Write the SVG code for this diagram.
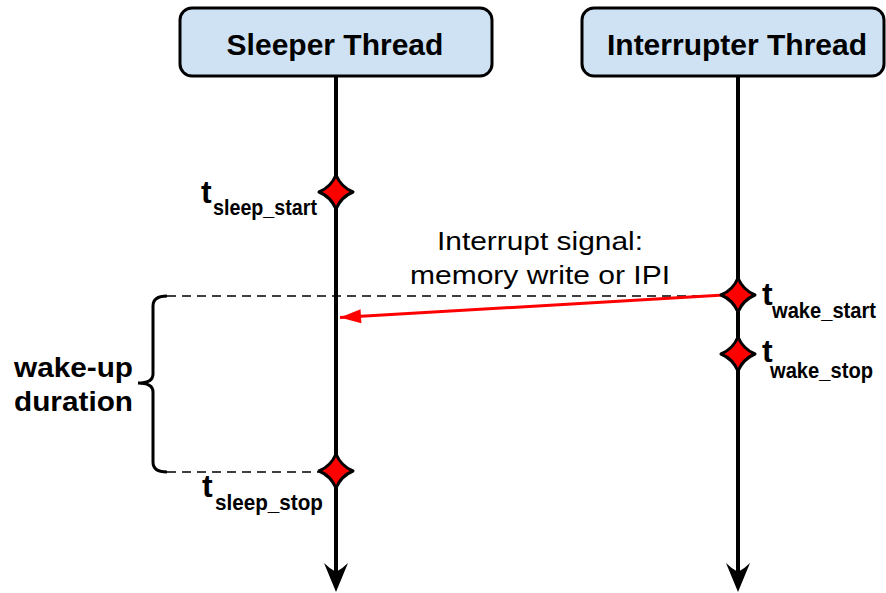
<svg xmlns="http://www.w3.org/2000/svg" width="886" height="593" viewBox="0 0 886 593">
  <defs>
    <style>
      .box { fill: #cfe2f3; stroke: #000; stroke-width: 3; }
      .head { font-family: "Liberation Sans", Arial, sans-serif; font-weight: bold; font-size: 30px; fill: #000; text-anchor: middle; }
      .life { stroke: #000; stroke-width: 4; fill: none; }
      .ahead { fill: #000; stroke: none; }
      .dash { stroke: #000; stroke-width: 1.5; stroke-dasharray: 9 6; fill: none; }
      .dia { fill: #ff0000; stroke: #000; stroke-width: 3; stroke-linejoin: round; }
      .t { font-family: "Liberation Sans", Arial, sans-serif; font-weight: bold; font-size: 32px; fill: #000; }
      .sub { font-family: "Liberation Sans", Arial, sans-serif; font-weight: bold; font-size: 22px; fill: #000; }
      .lbl { font-family: "Liberation Sans", Arial, sans-serif; font-size: 25px; fill: #000; }
      .big { font-family: "Liberation Sans", Arial, sans-serif; font-weight: bold; font-size: 27px; fill: #000; }
    </style>
    <path id="diamond" class="dia" d="M0,-17 Q5,-5 17,0 Q5,5 0,17 Q-5,5 -17,0 Q-5,-5 0,-17 Z"/>
    <path id="downHead" class="ahead" d="M0,0 L-12,-29 Q-6,-23 0,-20 Q6,-23 12,-29 Z"/>
    <marker id="redHead" markerUnits="userSpaceOnUse" viewBox="-22 -8 23 16" refX="0" refY="0" markerWidth="23" markerHeight="16" orient="auto">
      <path d="M0,0 L-21,-7 L-21,7 Z" fill="#ff0000"/>
    </marker>
  </defs>

  <g id="connectors">
    <line class="life" x1="336" y1="77" x2="336" y2="575"/>
    <use href="#downHead" x="336" y="592"/>
    <line class="life" x1="738" y1="77" x2="738" y2="575"/>
    <use href="#downHead" x="738" y="592"/>
    <line class="dash" x1="167" y1="296" x2="722" y2="296"/>
    <line class="dash" x1="167" y1="472" x2="319" y2="472"/>
    <line x1="724" y1="295" x2="340" y2="317.5" stroke="#ff0000" stroke-width="3" marker-end="url(#redHead)"/>
    <path d="M167,296 Q153,296 153,306 L153,374 Q153,383 138,383 Q153,383 153,392 L153,462 Q153,472 167,472" fill="none" stroke="#000" stroke-width="3"/>
  </g>

  <g id="sleeper">
    <rect class="box" x="180" y="8" width="312" height="68" rx="12"/>
    <text class="head" x="335" y="55">Sleeper Thread</text>
  </g>

  <g id="interrupter">
    <rect class="box" x="582" y="8" width="302" height="68" rx="12"/>
    <text class="head" x="737" y="55">Interrupter Thread</text>
  </g>

  <g id="sleep_start">
    <use href="#diamond" x="336" y="192"/>
    <text class="t" x="201" y="203">t</text>
    <text class="sub" x="213" y="215" textLength="104" lengthAdjust="spacingAndGlyphs">sleep_start</text>
  </g>

  <g id="sleep_stop">
    <use href="#diamond" x="336" y="471"/>
    <text class="t" x="202" y="497">t</text>
    <text class="sub" x="215" y="510" textLength="108" lengthAdjust="spacingAndGlyphs">sleep_stop</text>
  </g>

  <g id="wake_start">
    <use href="#diamond" x="738" y="295"/>
    <text class="t" x="762" y="305">t</text>
    <text class="sub" x="772" y="318" textLength="104" lengthAdjust="spacingAndGlyphs">wake_start</text>
  </g>

  <g id="wake_stop">
    <use href="#diamond" x="738" y="354"/>
    <text class="t" x="762" y="362">t</text>
    <text class="sub" x="770" y="378" textLength="103" lengthAdjust="spacingAndGlyphs">wake_stop</text>
  </g>

  <g id="signal_label">
    <text class="lbl" x="437" y="250" textLength="206" lengthAdjust="spacingAndGlyphs">Interrupt signal:</text>
    <text class="lbl" x="410" y="284" textLength="260" lengthAdjust="spacingAndGlyphs">memory write or IPI</text>
  </g>

  <g id="duration_label">
    <text class="big" x="14" y="377" textLength="119" lengthAdjust="spacingAndGlyphs">wake-up</text>
    <text class="big" x="14" y="411" textLength="119" lengthAdjust="spacingAndGlyphs">duration</text>
  </g>
</svg>
